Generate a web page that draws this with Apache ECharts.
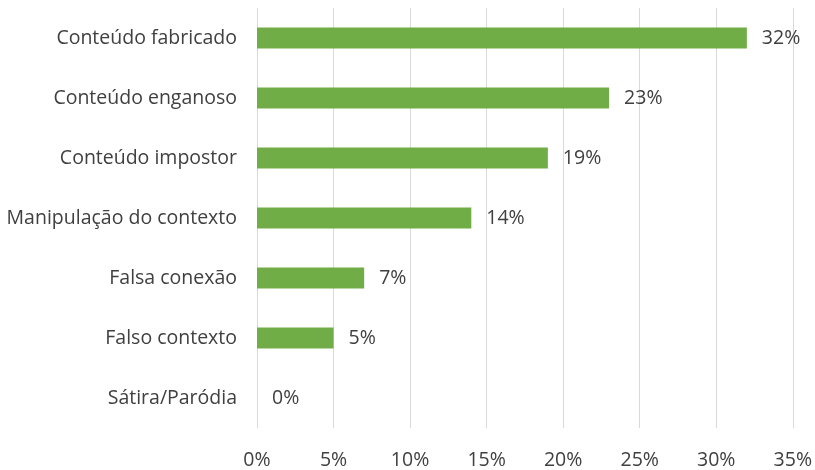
<!DOCTYPE html>
<html>
<head>
<meta charset="utf-8">
<script src="https://cdn.jsdelivr.net/npm/echarts@6/dist/echarts.min.js"></script>
<style>
  html, body { margin: 0; padding: 0; background: #fff; }
  #chart { width: 815px; height: 470px; }
</style>
</head>
<body>
<div id="chart"></div>
<script>
// Categories listed bottom-to-top (ECharts category y-axis starts at the bottom)
const categories = [
  'Sátira/Paródia',
  'Falso contexto',
  'Falsa conexão',
  'Manipulação do contexto',
  'Conteúdo impostor',
  'Conteúdo enganoso',
  'Conteúdo fabricado'
];
const shares = [0, 5, 7, 14, 19, 23, 32];
const tickStep = 5;
const axisMax = 35;

const font = '"Open Sans", Lato, sans-serif';
const textColor = '#404040';
const textSize = 19.5;

const chart = echarts.init(document.getElementById('chart'), null, { renderer: 'canvas' });
chart.setOption({
  animation: false,
  grid: { left: 257, right: 22, top: 8, bottom: 38, containLabel: false },
  xAxis: {
    type: 'value',
    min: 0,
    max: axisMax,
    interval: tickStep,
    axisLine: { show: false },
    axisTick: { show: false },
    splitLine: { show: true, lineStyle: { color: '#d9d9d9', width: 1 } },
    axisLabel: {
      formatter: v => v + '%',
      color: textColor,
      fontFamily: font,
      fontSize: textSize,
      margin: 22
    }
  },
  yAxis: {
    type: 'category',
    data: categories,
    axisLine: { show: false },
    axisTick: { show: false },
    axisLabel: {
      color: textColor,
      fontFamily: font,
      fontSize: textSize,
      margin: 20,
      padding: [3, 0, 0, 0]
    }
  },
  series: [{
    type: 'bar',
    data: shares,
    barWidth: 21,
    itemStyle: { color: '#70ad47' },
    label: {
      show: true,
      position: 'right',
      distance: 15,
      padding: [3, 0, 0, 0],
      formatter: p => p.value + '%',
      color: textColor,
      fontFamily: font,
      fontSize: textSize
    }
  }]
});
</script>
</body>
</html>
